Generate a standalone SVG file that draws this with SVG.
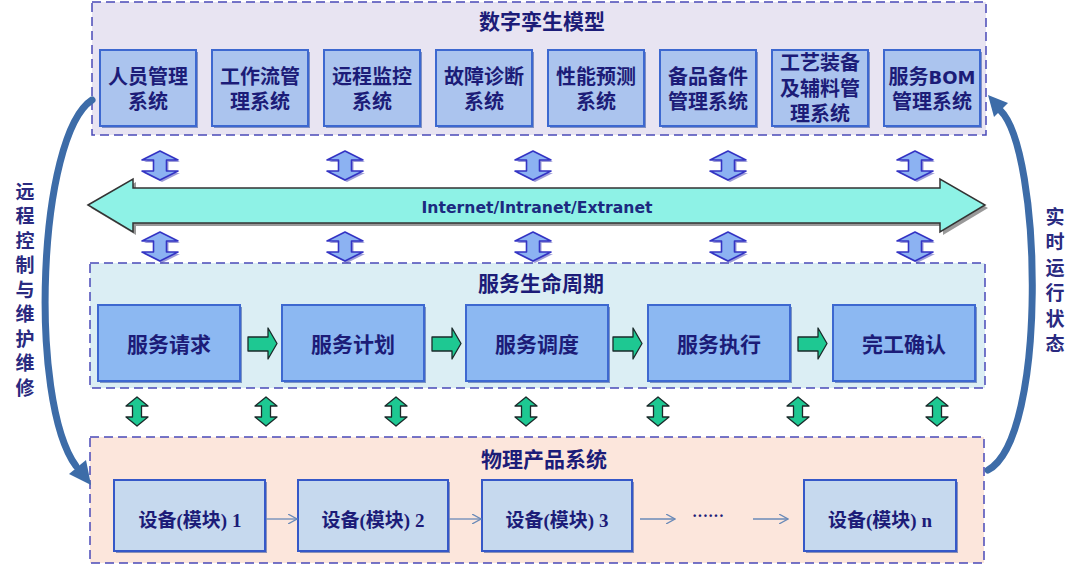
<svg xmlns="http://www.w3.org/2000/svg" width="1080" height="565" viewBox="0 0 1080 565">
<style>
.cn{font-family:"Liberation Serif","Noto Sans CJK SC",serif;font-weight:bold;fill:#1c1c78;text-anchor:middle;dominant-baseline:central}
.title{font-size:21px}
.t20{font-size:20px}
.t21{font-size:21px}
.t19{font-size:19px}
.side{font-family:"Noto Sans CJK SC",sans-serif;font-weight:bold;font-size:19px;fill:#2a2a80;writing-mode:tb;glyph-orientation-vertical:0}
.cont{stroke:#4a4ab8;stroke-width:1.5;stroke-dasharray:9,5}
.topbox{fill:#abc4ee;stroke:#3d68d0;stroke-width:2}
.midbox{fill:#8cb8f2;stroke:#3d68d0;stroke-width:2}
.botbox{fill:#c6d9ee;stroke:#3558c8;stroke-width:2}
.shadow{fill:#2c4a9a;opacity:0.55}
.thin{stroke:#6a8ab8;stroke-width:1.3;fill:none}
</style>
<defs>
<path id="bdbl" d="M0,0 L18,9 L6.5,9 L6.5,20 L18,20 L0,29 L-18,20 L-6.5,20 L-6.5,9 L-18,9 Z"/>
<path id="gdbl" d="M0,0 L11,9 L4.5,9 L4.5,20 L11,20 L0,29 L-11,20 L-4.5,20 L-4.5,9 L-11,9 Z"/>
<path id="garr" d="M0,9 L20,9 L20,0 L29,15.5 L20,31 L20,23 L0,23 Z"/>
<marker id="ah" viewBox="0 0 10 10" refX="9" refY="5" markerWidth="10" markerHeight="10" markerUnits="userSpaceOnUse" orient="auto">
<path d="M0,0 L9,5 L0,10" fill="none" stroke="#6a8ab8" stroke-width="1.3"/>
</marker>
</defs>

<!-- containers -->
<g id="twin-layer">
<rect x="92" y="2" width="894" height="133" fill="#e8e4f2" class="cont"/>
<text class="cn title" x="542" y="22">数字孪生模型</text>
</g>
<g id="lifecycle-layer">
<rect x="90" y="263" width="895" height="125" fill="#dbeef4" class="cont"/>
<text class="cn title" x="541" y="284">服务生命周期</text>
</g>
<g id="physical-layer">
<rect x="90" y="437" width="894" height="126" fill="#fce6dc" class="cont"/>
<text class="cn title" x="544" y="460">物理产品系统</text>
</g>

<!-- top boxes -->
<g id="n-personnel"><rect x="102" y="52" width="96" height="76" class="shadow"/><rect x="100" y="50" width="96" height="76" class="topbox"/><text class="cn t20" x="148" y="77">人员管理</text><text class="cn t20" x="148" y="102">系统</text></g>
<g id="n-workflow"><rect x="214" y="52" width="96" height="76" class="shadow"/><rect x="212" y="50" width="96" height="76" class="topbox"/><text class="cn t20" x="260" y="77">工作流管</text><text class="cn t20" x="260" y="102">理系统</text></g>
<g id="n-monitor"><rect x="326" y="52" width="96" height="76" class="shadow"/><rect x="324" y="50" width="96" height="76" class="topbox"/><text class="cn t20" x="372" y="77">远程监控</text><text class="cn t20" x="372" y="102">系统</text></g>
<g id="n-diagnosis"><rect x="438" y="52" width="96" height="76" class="shadow"/><rect x="436" y="50" width="96" height="76" class="topbox"/><text class="cn t20" x="484" y="77">故障诊断</text><text class="cn t20" x="484" y="102">系统</text></g>
<g id="n-predict"><rect x="550" y="52" width="96" height="76" class="shadow"/><rect x="548" y="50" width="96" height="76" class="topbox"/><text class="cn t20" x="596" y="77">性能预测</text><text class="cn t20" x="596" y="102">系统</text></g>
<g id="n-spares"><rect x="662" y="52" width="96" height="76" class="shadow"/><rect x="660" y="50" width="96" height="76" class="topbox"/><text class="cn t20" x="708" y="77">备品备件</text><text class="cn t20" x="708" y="102">管理系统</text></g>
<g id="n-tooling"><rect x="774" y="52" width="96" height="76" class="shadow"/><rect x="772" y="50" width="96" height="76" class="topbox"/><text class="cn t20" x="820" y="63">工艺装备</text><text class="cn t20" x="820" y="89">及辅料管</text><text class="cn t20" x="820" y="114">理系统</text></g>
<g id="n-bom"><rect x="886" y="52" width="96" height="76" class="shadow"/><rect x="884" y="50" width="96" height="76" class="topbox"/><text class="cn t20" x="932" y="77">服务<tspan font-family="DejaVu Sans" font-size="18">BOM</tspan></text><text class="cn t20" x="932" y="102">管理系统</text></g>

<!-- network bus -->
<g id="n-network">
<path d="M91,208 L136,182 L136,191 L943,191 L943,182 L988,208 L943,235 L943,226 L136,226 L136,235 Z" fill="#555" opacity="0.6"/>
<path d="M88,205 L133,179 L133,188 L940,188 L940,179 L985,205 L940,232 L940,223 L133,223 L133,232 Z" fill="#8ef2e6" stroke="#333" stroke-width="1.5"/>
<text x="537" y="213" font-family="DejaVu Sans" font-weight="bold" font-size="16" fill="#1c2a80" text-anchor="middle" textLength="231" lengthAdjust="spacingAndGlyphs">Internet/Intranet/Extranet</text>
</g>

<!-- middle boxes -->
<g id="n-request"><rect x="100" y="307" width="142" height="76" class="shadow"/><rect x="98" y="305" width="142" height="76" class="midbox"/><text class="cn t21" x="169" y="345">服务请求</text></g>
<g id="n-plan"><rect x="284" y="307" width="142" height="76" class="shadow"/><rect x="282" y="305" width="142" height="76" class="midbox"/><text class="cn t21" x="353" y="345">服务计划</text></g>
<g id="n-dispatch"><rect x="468" y="307" width="142" height="76" class="shadow"/><rect x="466" y="305" width="142" height="76" class="midbox"/><text class="cn t21" x="537" y="345">服务调度</text></g>
<g id="n-execute"><rect x="650" y="307" width="142" height="76" class="shadow"/><rect x="648" y="305" width="142" height="76" class="midbox"/><text class="cn t21" x="719" y="345">服务执行</text></g>
<g id="n-confirm"><rect x="835" y="307" width="142" height="76" class="shadow"/><rect x="833" y="305" width="142" height="76" class="midbox"/><text class="cn t21" x="904" y="345">完工确认</text></g>

<!-- bottom boxes -->
<g id="n-dev1"><rect x="116" y="482" width="151" height="71" class="shadow"/><rect x="114" y="480" width="151" height="71" class="botbox"/><text class="cn t19" x="190" y="520">设备(模块) 1</text></g>
<g id="n-dev2"><rect x="300" y="482" width="150" height="71" class="shadow"/><rect x="298" y="480" width="150" height="71" class="botbox"/><text class="cn t19" x="373" y="520">设备(模块) 2</text></g>
<g id="n-dev3"><rect x="484" y="482" width="150" height="71" class="shadow"/><rect x="482" y="480" width="150" height="71" class="botbox"/><text class="cn t19" x="557" y="520">设备(模块) 3</text></g>
<g id="n-devn"><rect x="806" y="482" width="152" height="71" class="shadow"/><rect x="804" y="480" width="152" height="71" class="botbox"/><text class="cn t19" x="880" y="520">设备(模块) n</text></g>
<g id="n-ellipsis"><text x="708" y="521" font-family="Liberation Serif" font-weight="bold" font-size="16" fill="#1c1c78" text-anchor="middle">······</text></g>

<!-- side labels -->
<g id="n-left-label">
<text class="side" x="25" y="182" letter-spacing="5.5">远程控制与维护维修</text>
</g>
<g id="n-right-label">
<text class="side" x="1055" y="207" letter-spacing="6.5">实时运行状态</text>
</g>

<!-- connectors -->
<g id="connectors">
<g fill="#3b3bb0" opacity="0.5">
<use href="#bdbl" x="162" y="153"/><use href="#bdbl" x="347" y="153"/><use href="#bdbl" x="535" y="153"/><use href="#bdbl" x="730" y="153"/><use href="#bdbl" x="917" y="153"/>
<use href="#bdbl" x="162" y="234"/><use href="#bdbl" x="347" y="234"/><use href="#bdbl" x="535" y="234"/><use href="#bdbl" x="730" y="234"/><use href="#bdbl" x="917" y="234"/>
</g>
<g fill="#8cb2f2" stroke="#3434c4" stroke-width="1.6" stroke-linejoin="round">
<use href="#bdbl" x="160" y="151"/><use href="#bdbl" x="345" y="151"/><use href="#bdbl" x="533" y="151"/><use href="#bdbl" x="728" y="151"/><use href="#bdbl" x="915" y="151"/>
<use href="#bdbl" x="160" y="232"/><use href="#bdbl" x="345" y="232"/><use href="#bdbl" x="533" y="232"/><use href="#bdbl" x="728" y="232"/><use href="#bdbl" x="915" y="232"/>
</g>
<g fill="#1ec892" stroke="#1a2a2a" stroke-width="1.3" stroke-linejoin="round">
<use href="#garr" x="248" y="328"/><use href="#garr" x="432" y="328"/><use href="#garr" x="613" y="328"/><use href="#garr" x="798" y="328"/>
</g>
<g fill="#1ec892" stroke="#1a2a2a" stroke-width="1.3" stroke-linejoin="round">
<use href="#gdbl" x="137" y="397"/><use href="#gdbl" x="266" y="397"/><use href="#gdbl" x="396" y="397"/><use href="#gdbl" x="526" y="397"/><use href="#gdbl" x="658" y="397"/><use href="#gdbl" x="798" y="397"/><use href="#gdbl" x="937" y="397"/>
</g>
<line x1="266" y1="519" x2="297" y2="519" class="thin" marker-end="url(#ah)"/>
<line x1="449" y1="519" x2="481" y2="519" class="thin" marker-end="url(#ah)"/>
<line x1="640" y1="519" x2="675" y2="519" class="thin" marker-end="url(#ah)"/>
<line x1="753" y1="519" x2="788" y2="519" class="thin" marker-end="url(#ah)"/>
<path d="M92,100 C38,135 28,400 76,466" fill="none" stroke="#3d6ca8" stroke-width="7" stroke-linecap="round"/>
<path d="M91,485 L69,474 L86,460 Z" fill="#3d6ca8"/>
<path d="M988,470 C1048,438 1042,150 1000,110" fill="none" stroke="#3d6ca8" stroke-width="7" stroke-linecap="round"/>
<path d="M988,95 L1008,103 L994,117 Z" fill="#3d6ca8"/>
</g>
</svg>
